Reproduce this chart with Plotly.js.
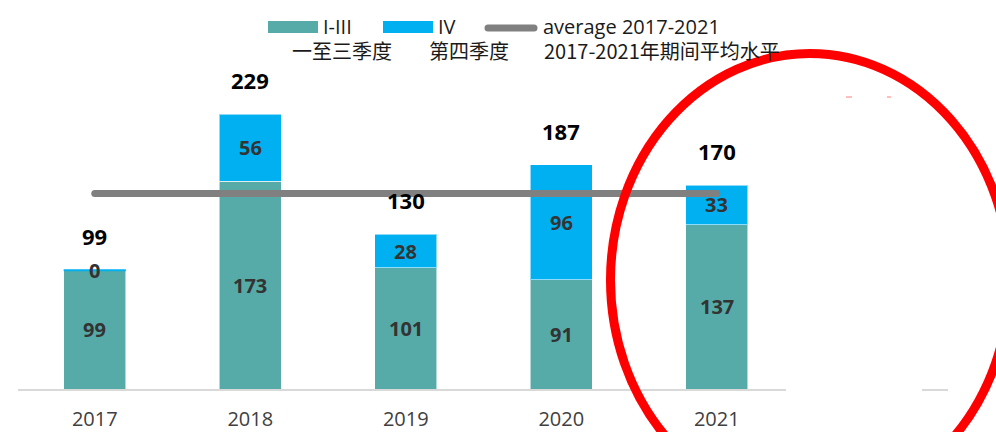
<!DOCTYPE html>
<html>
<head>
<meta charset="utf-8">
<script src="https://cdn.plot.ly/plotly-3.0.1.min.js"></script>
<style>
  html, body { margin: 0; padding: 0; background: #ffffff; }
  #chart { width: 996px; height: 432px; }
</style>
</head>
<body>
<div id="chart"></div>
<script>
// ---- data ----
const years = [2017, 2018, 2019, 2020, 2021];
const tickLabels = ['2017', '2018', '2019', '2020', '2021'];
const q1to3 = [99, 173, 101, 91, 137];
const q4 = [0, 56, 28, 96, 33];
const totals = [99, 229, 130, 187, 170];
const average = [163, 163, 163, 163, 163];
const seriesNames = ['I-III', 'IV', 'average 2017-2021'];
const seriesNamesZh = ['一至三季度', '第四季度', '2017-2021年期间平均水平'];

// ---- styling / layout ----
const W = 996, H = 432;
const M = { l: 17, r: 46, t: 69, b: 43 };
const PW = W - M.l - M.r, PH = H - M.t - M.b;
const px = x => (x - M.l) / PW;          // pixel -> paper x
const py = y => (H - M.b - y) / PH;      // pixel -> paper y
const BAR_W = 0.4;

const TEAL = '#56ABA9';
const BLUE = '#00B0F0';
const GRAY = '#808080';
const LATIN = '"Open Sans", "Liberation Sans", sans-serif';
const CJK = '"Noto Sans CJK SC", "Noto Sans", sans-serif';

const traces = [
  {
    type: 'bar', name: seriesNames[0], x: years, y: q1to3, width: BAR_W,
    marker: { color: TEAL, line: { color: 'rgba(255,255,255,0.55)', width: 1 } },
    hoverinfo: 'x+y+name'
  },
  {
    type: 'bar', name: seriesNames[1], x: years, y: q4, width: BAR_W,
    marker: { color: BLUE, line: { color: 'rgba(255,255,255,0.55)', width: 1 } },
    hoverinfo: 'x+y+name'
  },
  {
    type: 'scatter', mode: 'lines', name: seriesNames[2], x: years, y: average,
    line: { color: GRAY, width: 7 }, hoverinfo: 'y+name'
  }
];

const annotations = [];
const shapes = [];
// segment labels
years.forEach((yr, i) => {
  annotations.push({
    x: yr, y: q1to3[i] / 2, xref: 'x', yref: 'y', text: String(q1to3[i]),
    showarrow: false, font: { family: LATIN, size: 20, color: '#333333', weight: 'bold' }
  });
  annotations.push({
    x: yr, y: q1to3[i] + q4[i] / 2, xref: 'x', yref: 'y', text: String(q4[i]),
    showarrow: false, font: { family: LATIN, size: 20, color: '#333333', weight: 'bold' }
  });
  annotations.push({
    x: yr, y: q1to3[i] + q4[i], xref: 'x', yref: 'y', text: String(totals[i]),
    showarrow: false, yshift: 34,
    font: { family: LATIN, size: 22, color: '#000000', weight: 'bold' }
  });
  // a zero-height segment is still drawn as a thin line in the reference
  if (q4[i] === 0) {
    shapes.push({
      type: 'line', xref: 'x', yref: 'y', layer: 'above',
      x0: yr - BAR_W / 2, x1: yr + BAR_W / 2, y0: q1to3[i] + q4[i], y1: q1to3[i] + q4[i],
      line: { color: BLUE, width: 2 }
    });
  }
});

// custom legend
const legRow1 = 27, legRow2 = 50;
const legText = [
  { x: 322, y: legRow1, t: seriesNames[0], f: LATIN },
  { x: 437, y: legRow1, t: seriesNames[1], f: LATIN },
  { x: 542, y: legRow1, t: seriesNames[2], f: LATIN },
  { x: 291, y: legRow2, t: seriesNamesZh[0], f: CJK },
  { x: 428, y: legRow2, t: seriesNamesZh[1], f: CJK },
  { x: 543, y: legRow2, t: seriesNamesZh[2], f: CJK }
];
legText.forEach(o => annotations.push({
  xref: 'paper', yref: 'paper', x: px(o.x), y: py(o.y), xanchor: 'left', yanchor: 'middle',
  text: o.t, showarrow: false, borderpad: 0,
  font: { family: o.f, size: 20, color: '#1a1a1a' }
}));

shapes.push(
  // legend swatches
  { type: 'rect', xref: 'paper', yref: 'paper', x0: px(268), x1: px(318), y0: py(21), y1: py(33),
    fillcolor: TEAL, line: { width: 0 } },
  { type: 'rect', xref: 'paper', yref: 'paper', x0: px(383), x1: px(433), y0: py(21), y1: py(33),
    fillcolor: BLUE, line: { width: 0 } },
  { type: 'line', xref: 'paper', yref: 'paper', x0: px(488), x1: px(534), y0: py(28), y1: py(28),
    line: { color: GRAY, width: 7 } },
  // baseline (axis line, interrupted as in the reference)
  { type: 'line', xref: 'paper', yref: 'paper', x0: px(18), x1: px(786), y0: py(390), y1: py(390),
    line: { color: '#d9d9d9', width: 2 } },
  { type: 'line', xref: 'paper', yref: 'paper', x0: px(922), x1: px(948), y0: py(390), y1: py(390),
    line: { color: '#d9d9d9', width: 2 } },
  // small red remnants
  { type: 'line', xref: 'paper', yref: 'paper', x0: px(846), x1: px(852), y0: py(97), y1: py(97),
    line: { color: 'rgba(255,40,40,0.6)', width: 1 } },
  { type: 'line', xref: 'paper', yref: 'paper', x0: px(887), x1: px(891), y0: py(97), y1: py(97),
    line: { color: 'rgba(255,40,40,0.6)', width: 1 } },
  // red highlight ellipse
  { type: 'circle', xref: 'paper', yref: 'paper', layer: 'above',
    x0: px(610.5), x1: px(1009.5), y0: py(506.5), y1: py(53.5),
    line: { color: '#FF0000', width: 9 }, fillcolor: 'rgba(0,0,0,0)' }
);

const layout = {
  width: W, height: H,
  margin: M,
  paper_bgcolor: '#ffffff', plot_bgcolor: '#ffffff',
  barmode: 'stack',
  showlegend: false,
  xaxis: {
    range: [2016.5, 2022.5], tickvals: years, ticktext: tickLabels,
    showgrid: false, zeroline: false, showline: false, ticks: '',
    ticklabelstandoff: 16,
    tickfont: { family: LATIN, size: 20, color: '#404040' }, fixedrange: true
  },
  yaxis: {
    range: [0, PH / 1.2], visible: false, showgrid: false, zeroline: false, fixedrange: true
  },
  annotations: annotations,
  shapes: shapes
};

Plotly.newPlot('chart', traces, layout, { displayModeBar: false, staticPlot: true }).then(() => {
  document.querySelectorAll('.scatterlayer path.js-line').forEach(p => p.style.strokeLinecap = 'round');
  document.querySelectorAll('.shapelayer path').forEach(p => {
    const s = p.getAttribute('style') || '';
    if (s.indexOf('stroke-width: 7') >= 0) p.style.strokeLinecap = 'round';
  });
});
</script>
</body>
</html>
